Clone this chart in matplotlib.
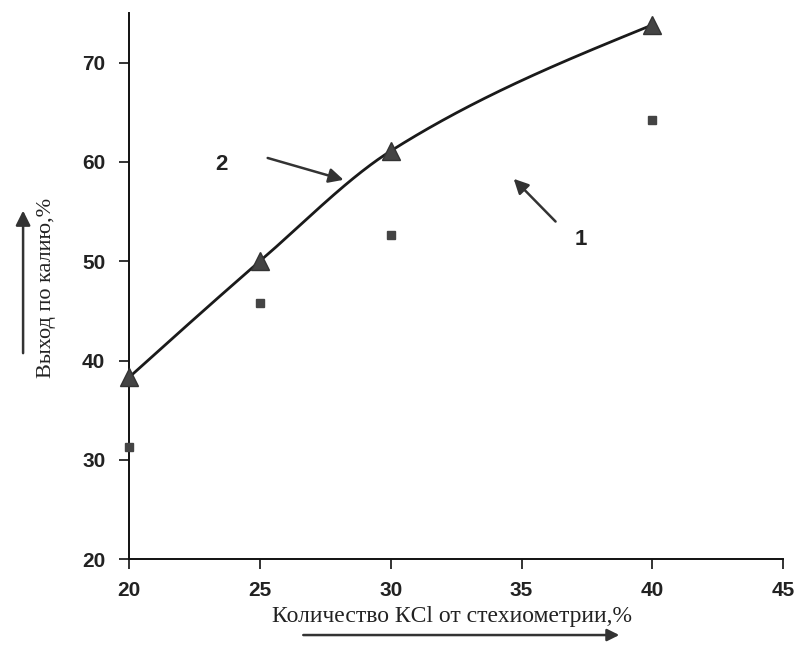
import numpy as np
import matplotlib
matplotlib.use("Agg")
import matplotlib.pyplot as plt

# ---- data ----
kcl = [20, 25, 30, 40]                      # % KCl of stoichiometry
yield_curve2 = [38.3, 50.0, 61.1, 73.8]     # series 2 (triangles, line)
yield_curve1 = [31.3, 45.8, 52.6, 64.2]     # series 1 (squares)
x_ticks = [20, 25, 30, 35, 40, 45]
y_ticks = [20, 30, 40, 50, 60, 70]
x_label = "Количество КCl от стехиометрии,%"
y_label = "Выход по калию,%"


def smooth(x, y, xs):
    """Monotone cubic Hermite curve through the points (for drawing the line)."""
    x = np.asarray(x, float); y = np.asarray(y, float)
    h = np.diff(x); d = np.diff(y) / h
    m = np.zeros_like(y)
    for k in range(1, len(x) - 1):
        if d[k - 1] * d[k] > 0:
            w1 = 2 * h[k] + h[k - 1]; w2 = h[k] + 2 * h[k - 1]
            m[k] = (w1 + w2) / (w1 / d[k - 1] + w2 / d[k])
    m[0] = 1.5 * d[0] - 0.5 * m[1]
    m[-1] = 1.5 * d[-1] - 0.5 * m[-2]
    out = np.empty_like(xs)
    for i, xv in enumerate(xs):
        k = min(np.searchsorted(x, xv, side="right") - 1, len(x) - 2)
        t = (xv - x[k]) / h[k]
        h00 = 2 * t**3 - 3 * t**2 + 1; h10 = t**3 - 2 * t**2 + t
        h01 = -2 * t**3 + 3 * t**2; h11 = t**3 - t**2
        out[i] = h00 * y[k] + h10 * h[k] * m[k] + h01 * y[k + 1] + h11 * h[k] * m[k + 1]
    return out


fig = plt.figure(figsize=(7.96, 6.48), dpi=100)
ax = fig.add_axes([0.162, 0.137, 0.822, 0.843])

xs = np.linspace(kcl[0], kcl[-1], 300)
ax.plot(xs, smooth(kcl, yield_curve2, xs), color="#1a1a1a", lw=2.0, zorder=2)
ax.plot(kcl, yield_curve2, linestyle="none", marker="^", markersize=13,
        color="#444444", markeredgecolor="#333333", zorder=3, clip_on=False)
ax.plot(kcl, yield_curve1, linestyle="none", marker="s", markersize=6,
        color="#444444", zorder=3, clip_on=False)

ax.set_xlim(20, 45)
ax.set_ylim(20, 75)
ax.set_xticks(x_ticks)
ax.set_yticks(y_ticks)
for s in ("top", "right"):
    ax.spines[s].set_visible(False)
for s in ("left", "bottom"):
    ax.spines[s].set_linewidth(1.4)
    ax.spines[s].set_color("#111111")
ax.tick_params(axis="both", direction="out", length=7, width=1.2, colors="#111111")
ax.tick_params(axis="y", pad=10)
ax.tick_params(axis="x", pad=9)
for lab in ax.get_xticklabels() + ax.get_yticklabels():
    lab.set_fontfamily("Liberation Sans")
    lab.set_fontweight("bold")
    lab.set_fontsize(15)
    lab.set_color("#222222")

# curve labels with arrows
arrow_kw = dict(arrowstyle="-|>", mutation_scale=22, lw=1.8, color="#333333",
                shrinkA=0, shrinkB=0)
ax.text(23.55, 59.7, "2", fontsize=16, fontfamily="Liberation Sans", fontweight="bold",
        ha="center", va="center", color="#222222")
ax.annotate("", xy=(28.2, 58.2), xytext=(25.3, 60.4), arrowprops=arrow_kw)
ax.text(37.25, 52.2, "1", fontsize=16, fontfamily="Liberation Sans", fontweight="bold",
        ha="center", va="center", color="#222222")
ax.annotate("", xy=(34.7, 58.3), xytext=(36.3, 54.0), arrowprops=arrow_kw)

# axis titles with direction arrows
fig.text(0.059, 0.555, y_label, rotation=90, ha="center", va="center",
         fontsize=16, fontfamily="Liberation Serif", color="#222222")
fig.text(0.568, 0.049, x_label, ha="center", va="center",
         fontsize=17, fontfamily="Liberation Serif", color="#222222")
ax.annotate("", xy=(0.029, 0.675), xytext=(0.029, 0.455), xycoords="figure fraction",
            textcoords="figure fraction",
            arrowprops=dict(arrowstyle="-|>", mutation_scale=22, lw=1.8,
                            color="#333333", shrinkA=0, shrinkB=0))
ax.annotate("", xy=(0.778, 0.02), xytext=(0.381, 0.02), xycoords="figure fraction",
            textcoords="figure fraction",
            arrowprops=dict(arrowstyle="-|>", mutation_scale=18, lw=1.8,
                            color="#333333", shrinkA=0, shrinkB=0))

fig.savefig("out.png", dpi=100, facecolor="white")
